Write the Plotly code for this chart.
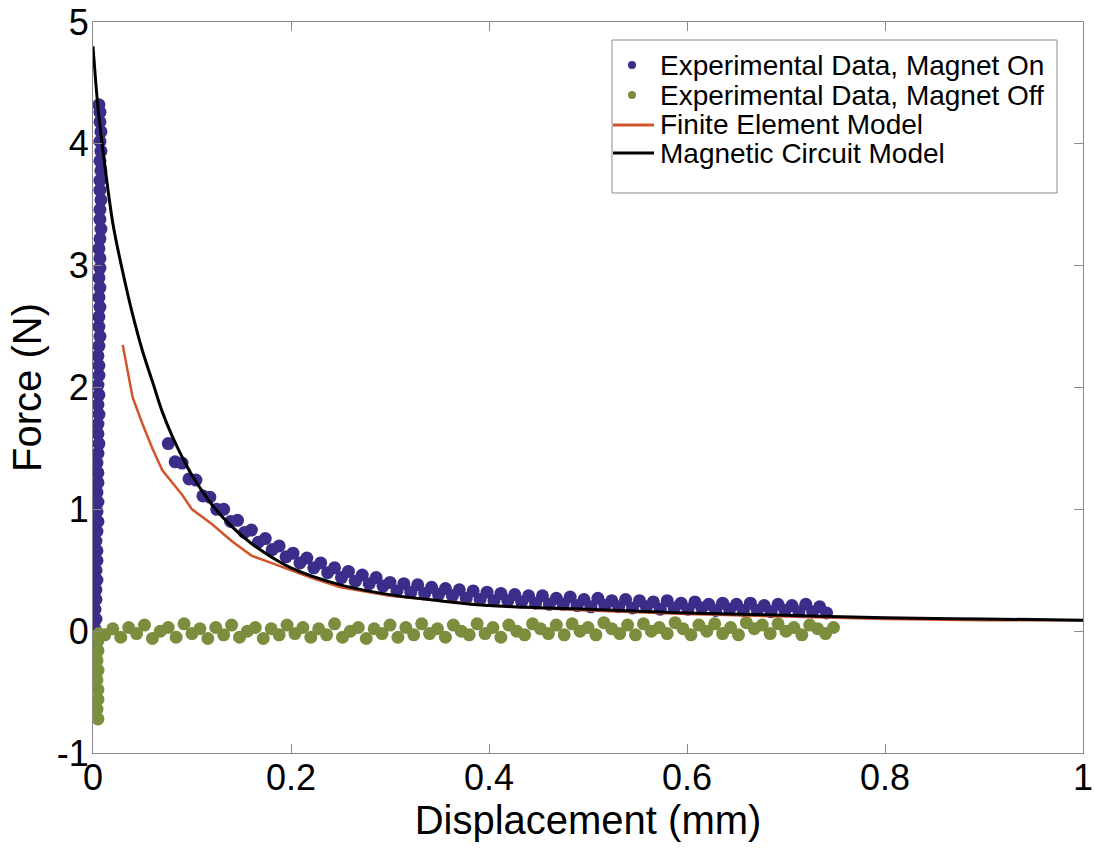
import plotly.graph_objects as go

# Magnet on: steep rise near x=0, then decay
rise_x = [0.001, 0.002, 0.001, 0.002, 0.002, 0.003, 0.002, 0.003, 0.003, 0.004,
          0.003, 0.004, 0.004, 0.003, 0.004, 0.005, 0.004, 0.005, 0.004, 0.005,
          0.005, 0.004, 0.005, 0.006, 0.005, 0.005, 0.006, 0.005, 0.006, 0.005,
          0.006, 0.006, 0.005, 0.006, 0.007, 0.006, 0.006, 0.007, 0.006, 0.007,
          0.006, 0.007, 0.007, 0.006, 0.007, 0.008, 0.007, 0.007, 0.008, 0.007,
          0.007, 0.008, 0.007, 0.008, 0.007, 0.008, 0.007, 0.007, 0.006]
rise_y = [-0.30, -0.22, -0.14, -0.06, 0.02, 0.10, 0.18, 0.26, 0.34, 0.42,
          0.50, 0.58, 0.66, 0.74, 0.82, 0.90, 0.98, 1.06, 1.14, 1.22,
          1.30, 1.38, 1.46, 1.54, 1.62, 1.70, 1.78, 1.86, 1.94, 2.02,
          2.10, 2.18, 2.26, 2.34, 2.42, 2.50, 2.58, 2.66, 2.74, 2.82,
          2.90, 2.98, 3.06, 3.14, 3.22, 3.30, 3.38, 3.46, 3.54, 3.62,
          3.70, 3.78, 3.86, 3.94, 4.02, 4.10, 4.18, 4.26, 4.32]

decay_x = [0.076, 0.083, 0.090, 0.097, 0.104, 0.111, 0.118, 0.125,
           0.132, 0.139, 0.146, 0.153, 0.160, 0.167, 0.174, 0.181,
           0.188, 0.195, 0.202, 0.209, 0.216, 0.223, 0.230, 0.237,
           0.244, 0.251, 0.258, 0.265, 0.272, 0.279, 0.286, 0.293,
           0.300, 0.307, 0.314, 0.321, 0.328, 0.335, 0.342, 0.349,
           0.356, 0.363, 0.370, 0.377, 0.384, 0.391, 0.398, 0.405,
           0.412, 0.419, 0.426, 0.433, 0.440, 0.447, 0.454, 0.461,
           0.468, 0.475, 0.482, 0.489, 0.496, 0.503, 0.510, 0.517,
           0.524, 0.531, 0.538, 0.545, 0.552, 0.559, 0.566, 0.573,
           0.580, 0.587, 0.594, 0.601, 0.608, 0.615, 0.622, 0.629,
           0.636, 0.643, 0.650, 0.657, 0.664, 0.671, 0.678, 0.685,
           0.692, 0.699, 0.706, 0.713, 0.720, 0.727, 0.734, 0.741]
decay_y = [1.54, 1.39, 1.38, 1.25, 1.24, 1.11, 1.10, 1.00,
           1.00, 0.90, 0.91, 0.81, 0.83, 0.73, 0.76, 0.67,
           0.70, 0.61, 0.64, 0.56, 0.60, 0.52, 0.56, 0.48,
           0.52, 0.44, 0.49, 0.41, 0.46, 0.39, 0.44, 0.37,
           0.40, 0.33, 0.39, 0.32, 0.38, 0.31, 0.36, 0.30,
           0.35, 0.29, 0.34, 0.27, 0.33, 0.26, 0.32, 0.25,
           0.31, 0.25, 0.30, 0.24, 0.29, 0.23, 0.29, 0.22,
           0.27, 0.22, 0.28, 0.21, 0.26, 0.20, 0.27, 0.21,
           0.25, 0.20, 0.26, 0.19, 0.25, 0.20, 0.24, 0.18,
           0.25, 0.19, 0.23, 0.18, 0.24, 0.19, 0.22, 0.17,
           0.23, 0.18, 0.22, 0.17, 0.23, 0.17, 0.21, 0.16,
           0.22, 0.17, 0.21, 0.16, 0.22, 0.16, 0.20, 0.15]

# Magnet off: drop below zero, then flat around zero
drop_x = [0.005, 0.004, 0.005, 0.005, 0.004, 0.005, 0.004, 0.005, 0.005, 0.006]
drop_y = [-0.72, -0.64, -0.56, -0.48, -0.40, -0.32, -0.24, -0.16, -0.08, -0.02]

flat_x = [0.012, 0.020, 0.028, 0.036, 0.044, 0.052, 0.060, 0.068, 0.076, 0.084,
          0.092, 0.100, 0.108, 0.116, 0.124, 0.132, 0.140, 0.148, 0.156, 0.164,
          0.172, 0.180, 0.188, 0.196, 0.204, 0.212, 0.220, 0.228, 0.236, 0.244,
          0.252, 0.260, 0.268, 0.276, 0.284, 0.292, 0.300, 0.308, 0.316, 0.324,
          0.332, 0.340, 0.348, 0.356, 0.364, 0.372, 0.380, 0.388, 0.396, 0.404,
          0.412, 0.420, 0.428, 0.436, 0.444, 0.452, 0.460, 0.468, 0.476, 0.484,
          0.492, 0.500, 0.508, 0.516, 0.524, 0.532, 0.540, 0.548, 0.556, 0.564,
          0.572, 0.580, 0.588, 0.596, 0.604, 0.612, 0.620, 0.628, 0.636, 0.644,
          0.652, 0.660, 0.668, 0.676, 0.684, 0.692, 0.700, 0.708, 0.716, 0.724,
          0.732, 0.740, 0.748]
flat_y = [-0.03, 0.02, -0.05, 0.03, -0.02, 0.05, -0.06, 0.00, 0.03, -0.05,
          0.06, -0.02, 0.02, -0.06, 0.03, -0.03, 0.05, -0.05, 0.00, 0.03,
          -0.06, 0.02, -0.03, 0.05, -0.02, 0.03, -0.05, 0.02, -0.03, 0.06,
          -0.05, 0.00, 0.03, -0.06, 0.02, -0.02, 0.05, -0.05, 0.03, -0.03,
          0.06, -0.02, 0.02, -0.05, 0.05, 0.00, -0.03, 0.06, -0.02, 0.03,
          -0.05, 0.05, 0.00, -0.03, 0.06, 0.02, -0.02, 0.05, -0.03, 0.06,
          0.00, 0.03, -0.03, 0.07, 0.02, -0.02, 0.05, -0.03, 0.06, 0.00,
          0.03, -0.02, 0.07, 0.02, -0.03, 0.05, 0.00, 0.06, -0.02, 0.03,
          -0.03, 0.07, 0.02, 0.05, -0.02, 0.06, 0.00, 0.03, -0.03, 0.05,
          0.02, -0.02, 0.03]

# models
fem_x = [0.03, 0.04, 0.05, 0.06, 0.07, 0.08, 0.09, 0.10, 0.12, 0.14, 0.16, 0.18,
         0.20, 0.22, 0.25, 0.30, 0.35, 0.40, 0.50, 0.60, 0.70, 0.80, 0.90, 1.00]
fem_y = [2.35, 1.92, 1.70, 1.50, 1.32, 1.22, 1.12, 1.00, 0.88, 0.74, 0.62, 0.56,
         0.50, 0.44, 0.36, 0.29, 0.25, 0.21, 0.17, 0.14, 0.12, 0.10, 0.09, 0.09]

mcm_x = [0.0, 0.005, 0.01, 0.02, 0.03, 0.04, 0.05, 0.06, 0.07, 0.08, 0.09, 0.10,
         0.12, 0.14, 0.16, 0.18, 0.20, 0.25, 0.30, 0.35, 0.40, 0.50, 0.60, 0.70,
         0.80, 0.90, 1.00]
mcm_y = [4.80, 4.30, 3.95, 3.35, 2.95, 2.60, 2.30, 2.05, 1.80, 1.60, 1.43, 1.28,
         1.04, 0.86, 0.72, 0.61, 0.52, 0.38, 0.30, 0.25, 0.21, 0.18, 0.15, 0.13,
         0.11, 0.10, 0.09]

x_ticks = [0, 0.2, 0.4, 0.6, 0.8, 1]
x_labels = ["0", "0.2", "0.4", "0.6", "0.8", "1"]
y_ticks = [-1, 0, 1, 2, 3, 4, 5]
y_labels = ["-1", "0", "1", "2", "3", "4", "5"]

legend_names = ["Experimental Data, Magnet On", "Experimental Data, Magnet Off",
                "Finite Element Model", "Magnetic Circuit Model"]

assert len(rise_x) == len(rise_y) and len(decay_x) == len(decay_y)
assert len(drop_x) == len(drop_y) and len(flat_x) == len(flat_y)

font = "Liberation Sans, Arial, sans-serif"
blue = "#3a2e8a"
green = "#7a8e3e"
orange = "#d2542a"
axis_grey = "#8a8a8a"

W, H = 1094, 853
L, R, T, B = 93, 11, 22, 100
pw, ph = W - L - R, H - T - B


def px(x):
    return (x - L) / pw


def py(y):
    return (H - B - y) / ph


fig = go.Figure()
fig.add_trace(go.Scatter(x=rise_x + decay_x, y=rise_y + decay_y, mode="markers",
                         marker=dict(color=blue, size=13), name=legend_names[0]))
fig.add_trace(go.Scatter(x=drop_x + flat_x, y=drop_y + flat_y, mode="markers",
                         marker=dict(color=green, size=13), name=legend_names[1]))
fig.add_trace(go.Scatter(x=fem_x, y=fem_y, mode="lines",
                         line=dict(color=orange, width=2.5), name=legend_names[2]))
fig.add_trace(go.Scatter(x=mcm_x, y=mcm_y, mode="lines",
                         line=dict(color="black", width=3, shape="spline"),
                         name=legend_names[3]))

# hand-made legend box so rows can sit as tight as the original
row_px = [65, 95, 125, 153]
shapes = [dict(type="rect", xref="paper", yref="paper",
               x0=px(612), x1=px(1057), y0=py(193), y1=py(40),
               line=dict(color=axis_grey, width=1), fillcolor="white", layer="above")]
annotations = []
for i, (name, ry) in enumerate(zip(legend_names, row_px)):
    if i < 2:
        shapes.append(dict(type="circle", xref="paper", yref="paper",
                           xsizemode="pixel", ysizemode="pixel",
                           xanchor=px(632), yanchor=py(ry),
                           x0=-4, x1=4, y0=-4, y1=4,
                           fillcolor=[blue, green][i], line=dict(width=0),
                           layer="above"))
    else:
        shapes.append(dict(type="line", xref="paper", yref="paper",
                           x0=px(613), x1=px(654), y0=py(ry), y1=py(ry),
                           line=dict(color=[orange, "black"][i - 2], width=3),
                           layer="above"))
    annotations.append(dict(text=name, xref="paper", yref="paper",
                            x=px(658), y=py(ry), xanchor="left", yanchor="middle",
                            showarrow=False,
                            font=dict(family=font, size=28, color="black")))

axis_style = dict(showline=True, mirror="ticks", linecolor=axis_grey, linewidth=1,
                  ticks="inside", ticklen=9, tickcolor=axis_grey,
                  showgrid=False, zeroline=False, automargin=False,
                  tickfont=dict(family=font, size=36, color="black"))

fig.update_xaxes(range=[0, 1], tickvals=x_ticks, ticktext=x_labels,
                 ticklabelstandoff=-7,
                 title=dict(text="Displacement (mm)", standoff=0,
                            font=dict(family=font, size=40, color="black")),
                 **axis_style)
fig.update_yaxes(range=[-1, 5], tickvals=y_ticks, ticktext=y_labels,
                 ticklabelstandoff=-4,
                 title=dict(text="Force (N)", standoff=2,
                            font=dict(family=font, size=40, color="black")),
                 **axis_style)

fig.update_layout(
    width=W, height=H,
    margin=dict(l=L, r=R, t=T, b=B),
    plot_bgcolor="white", paper_bgcolor="white",
    showlegend=False,
    shapes=shapes, annotations=annotations,
)

fig.write_html("out.html", config={"displayModeBar": False},
               post_script="document.body.style.margin = '0';")
